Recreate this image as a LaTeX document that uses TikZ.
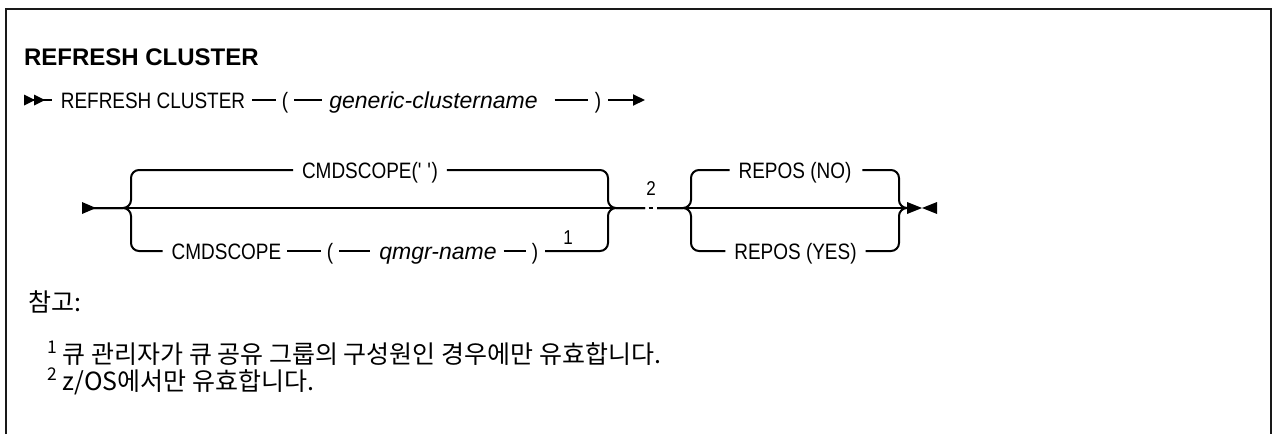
\documentclass[tikz,border=0pt]{standalone}
\usepackage{fontspec}
\setmainfont{Liberation Sans}[FakeStretch=0.85]
\newfontfamily\titlefont{Liberation Sans}
\newfontfamily\itfont{Liberation Sans}
\newfontfamily\krfont{Noto Sans CJK KR}
\usetikzlibrary{arrows.meta}
\begin{document}
\begin{tikzpicture}[x=1pt,y=-1pt,line width=2pt,
  lbl/.style={inner sep=0pt,font=\fontsize{22.3}{27}\selectfont,text height=16pt,text depth=0pt,anchor=center},
  ital/.style={lbl,font=\itfont\itshape\fontsize{23}{27}\selectfont},
  sup/.style={inner sep=0pt,font=\fontsize{20}{22}\selectfont},
  kr/.style={inner sep=0pt,anchor=base west,font=\krfont\fontsize{25}{29}\selectfont},
  rc/.style={rounded corners=8pt},
  tipfill/.style={fill=black}]
\useasboundingbox (0,0) rectangle (1274,434);
% frame
\draw[line width=2.5pt,black!90] (6,434) -- (6,9) -- (1271,9) -- (1271,434);
% title
\node[anchor=base west,inner sep=0pt,font=\titlefont\bfseries\fontsize{24}{28}\selectfont] (title) at (23,65) {REFRESH CLUSTER};
% ---- line 1
\coordinate (s1) at (24,100);
\coordinate (e1) at (645,100);
\node[lbl] (ref) at (153,100) {REFRESH CLUSTER};
\node[lbl] (lp1) at (285,100) {(};
\node[ital] (gen) at (433.5,100) {generic-clustername};
\node[lbl] (rp1) at (598,100) {)};
\fill[tipfill] (24,94.5) -- (35,100) -- (24,105.5) -- cycle;
\fill[tipfill] (34,94.5) -- (45,100) -- (34,105.5) -- cycle;
\draw[shorten >=8pt] (s1) -- (ref.west);
\draw[shorten <=6pt,shorten >=5pt] (ref.east) -- (lp1.west);
\draw[shorten <=5pt,shorten >=6pt] (lp1.east) -- (gen.west);
\draw[shorten <=16pt,shorten >=6pt] (gen.east) -- (rp1.west);
\draw[shorten <=6pt,-{Triangle[length=12pt,width=11pt]}] (rp1.east) -- (e1);
% ---- line 2
\coordinate (s2) at (82,208);
\coordinate (L1) at (131,208);
\coordinate (R1) at (608,208);
\coordinate (g2) at (645,208);
\coordinate (g3) at (657,208);
\coordinate (L2) at (691,208);
\coordinate (R2) at (899,208);
\coordinate (E) at (907,208);
\fill[tipfill] (82,202) -- (96,208) -- (82,214) -- cycle;
\node[lbl] (c1) at (370,170) {CMDSCOPE(\textquotesingle\ \textquotesingle)};
\node[lbl] (cmd2) at (226.5,251) {CMDSCOPE};
\node[lbl] (lp2) at (330,251) {(};
\node[ital] (qm) at (438,251) {qmgr-name};
\node[lbl] (rp2) at (535,251) {)};
\node[sup] (fn1) at (568,238) {1};
\node[sup] (fn2) at (651,189) {2};
\node[lbl] (no) at (795,170) {REPOS (NO)};
\node[lbl] (yes) at (795.5,251) {REPOS (YES)};
% group 1
\draw (s2) -- (g2);
\draw[rc,shorten >=8pt] (s2) -| (L1 |- c1) -- (c1.west);
\draw[rc,shorten >=8pt] (s2) -| (L1 |- cmd2) -- (cmd2.west);
\draw[rc,shorten <=8pt] (c1.east) -| (R1) -- (g2);
\draw[rc,shorten <=6pt] (rp2.east) -| (R1) -- (g2);
\draw[shorten <=5pt,shorten >=5pt] (cmd2.east) -- (lp2.west);
\draw[shorten <=5pt,shorten >=8pt] (lp2.east) -- (qm.west);
\draw[shorten <=6pt,shorten >=5pt] (qm.east) -- (rp2.west);
% ref 2 tick
\draw (g2) ++(3.5,0) -- ++(4,0);
% group 2
\draw (g3) -- (E);
\draw[rc,shorten >=8pt] (g3) -| (L2 |- no) -- (no.west);
\draw[rc,shorten >=8pt] (g3) -| (L2 |- yes) -- (yes.west);
\draw[rc,shorten <=10pt] (no.east) -| (R2) -- (E);
\draw[rc,shorten <=8pt] (yes.east) -| (R2) -- (E);
\fill[tipfill] (907,202) -- (922,208) -- (907,214) -- cycle;
\fill[tipfill] (937,202) -- (922,208) -- (937,214) -- cycle;
% notes
\node[kr] (note) at (27,311) {참고:};
\node[kr] (f1) at (46,363) {\textsuperscript{1} 큐 관리자가 큐 공유 그룹의 구성원인 경우에만 유효합니다.};
\node[kr] (f2) at (46,390) {\textsuperscript{2} z/OS에서만 유효합니다.};
\end{tikzpicture}
\end{document}
